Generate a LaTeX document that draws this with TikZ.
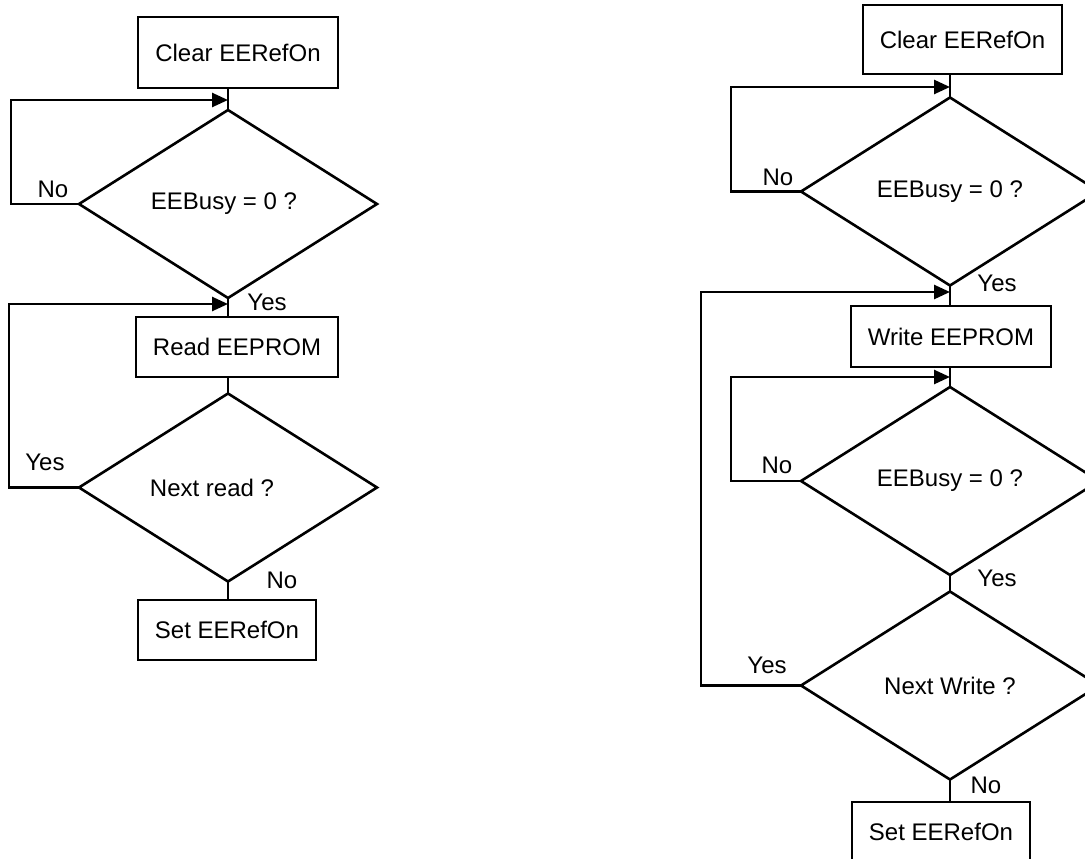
\documentclass[tikz,border=0pt]{standalone}
\usepackage{fontspec}
\setmainfont{Liberation Sans}
\usetikzlibrary{shapes.geometric,arrows.meta}
\tikzset{
  box/.style={draw,line width=2.6pt,rectangle,inner sep=0pt,outer sep=0pt},
  decision/.style={draw,line width=2.6pt,diamond,inner sep=0pt,outer sep=0pt,
    minimum width=298pt,minimum height=188pt},
  flow/.style={line width=2.6pt},
  arr/.style={line width=2.6pt,-{Triangle[length=16pt,width=14pt]}},
  lbl/.style={inner sep=0pt}
}
\begin{document}
\begin{tikzpicture}[x=1pt,y=-1pt,font=\fontsize{24}{28}\selectfont]
\useasboundingbox (0,0) rectangle (1085,859);
\clip (0,0) rectangle (1085,859);
\fill[white] (0,0) rectangle (1085,859);
% read
\node[box,minimum width=200pt,minimum height=71pt] (clr1) at (238,52.5) {Clear EERefOn};
\node[decision] (busy1) at (228,204) {\hspace*{-8pt}EEBusy = 0 ?};
\node[box,minimum width=202pt,minimum height=60pt] (read) at (237,347) {Read EEPROM};
\node[decision] (next1) at (228,487.5) {\hspace*{-32pt}Next read ?};
\node[box,minimum width=178pt,minimum height=60pt] (set1) at (227,630) {Set EERefOn};
\coordinate (j1) at (228,100);
\coordinate (j2) at (228,304);
\draw[flow] (busy1.north |- clr1.south) -- (busy1.north);
\draw[flow] (busy1.south) -- (busy1.south |- read.north);
\draw[flow] (next1.north |- read.south) -- (next1.north);
\draw[flow] (next1.south) -- (next1.south |- set1.north);
\draw[arr] (busy1.west) -- ++(-68,0) |- (j1);
\draw[arr] (next1.west) -- ++(-70,0) |- (j2);
\node[lbl] at (53,189) {No};
\node[lbl] at (267,302) {Yes};
\node[lbl] at (45,462) {Yes};
\node[lbl] at (282,580) {No};
% write
\node[box,minimum width=199pt,minimum height=69pt] (clr2) at (962.5,39.5) {Clear EERefOn};
\node[decision] (busy2) at (950,191.5) {EEBusy = 0 ?};
\node[box,minimum width=200pt,minimum height=61pt] (write) at (951,336.5) {Write EEPROM};
\node[decision] (busy3) at (950,481) {EEBusy = 0 ?};
\node[decision] (next2) at (950,685.5) {Next Write ?};
\node[box,minimum width=178pt,minimum height=60pt] (set2) at (941,832) {Set EERefOn};
\coordinate (j3) at (950,87);
\coordinate (j4) at (950,292);
\coordinate (j5) at (950,377);
\draw[flow] (busy2.north |- clr2.south) -- (busy2.north);
\draw[flow] (busy2.south) -- (busy2.south |- write.north);
\draw[flow] (busy3.north |- write.south) -- (busy3.north);
\draw[flow] (busy3.south) -- (next2.north);
\draw[flow] (next2.south) -- (next2.south |- set2.north);
\draw[arr] (busy2.west) -- ++(-70,0) |- (j3);
\draw[arr] (busy3.west) -- ++(-70,0) |- (j5);
\draw[arr] (next2.west) -- ++(-100,0) |- (j4);
\node[lbl] at (778,177) {No};
\node[lbl] at (997,283) {Yes};
\node[lbl] at (777,465) {No};
\node[lbl] at (997,578) {Yes};
\node[lbl] at (767,665) {Yes};
\node[lbl] at (986,785) {No};
\end{tikzpicture}
\end{document}
